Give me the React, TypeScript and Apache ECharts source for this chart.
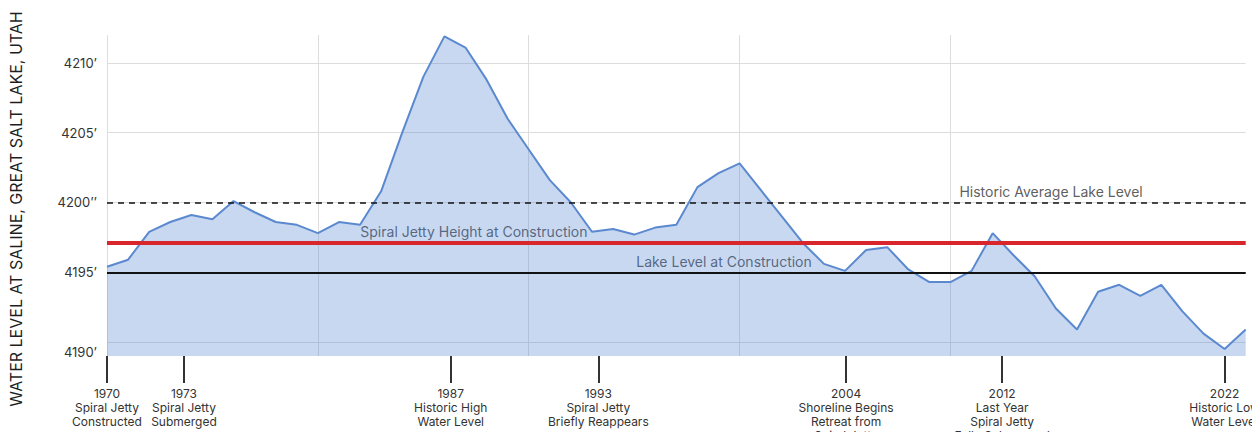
import React, { useEffect, useRef } from "react";
import * as echarts from "echarts";

// Water level (feet) sampled at evenly spaced steps along the x axis (index units)
const levels: number[] = [
  4195.4, 4195.9, 4197.9, 4198.6, 4199.1, 4198.8, 4200.1, 4199.3, 4198.6, 4198.4,
  4197.8, 4198.6, 4198.4, 4200.8, 4205.0, 4209.0, 4211.9, 4211.1, 4208.8, 4206.0,
  4203.8, 4201.6, 4200.0, 4197.9, 4198.1, 4197.7, 4198.2, 4198.4, 4201.1, 4202.1,
  4202.8, 4200.9, 4199.0, 4197.1, 4195.6, 4195.1, 4196.6, 4196.8, 4195.2, 4194.3,
  4194.3, 4195.1, 4197.8, 4196.2, 4194.7, 4192.4, 4190.9, 4193.6, 4194.1, 4193.3,
  4194.1, 4192.2, 4190.6, 4189.5, 4190.9,
];

const yTickValues = [4190, 4195, 4200, 4205, 4210];
const yTickLabels = ["4190’", "4195’", "4200’’", "4205’", "4210’"];
const xGridValues = [0, 10, 20, 30, 40, 50];

// Timeline annotations (position in x-axis index units)
const markerPositions = [0, 3.65, 16.3, 23.3, 35.05, 42.45, 53.0];
const markerYears = ["1970", "1973", "1987", "1993", "2004", "2012", "2022"];
const markerNotes = [
  "Spiral Jetty\nConstructed",
  "Spiral Jetty\nSubmerged",
  "Historic High\nWater Level",
  "Spiral Jetty\nBriefly Reappears",
  "Shoreline Begins\nRetreat from\nSpiral Jetty",
  "Last Year\nSpiral Jetty\nFully Submerged",
  "Historic Low\nWater Level",
];

// Reference levels
const refNames = ["Historic Average Lake Level", "Spiral Jetty Height at Construction", "Lake Level at Construction"];
const refLevels = [4200, 4197.1, 4195];
const refLabelX = [44.77, 17.4, 29.26];

const FONT = "Inter, 'Noto Sans', sans-serif";

export default function App() {
  const ref = useRef<HTMLDivElement>(null);
  useEffect(() => {
    if (!ref.current) return;
    const chart = echarts.init(ref.current, undefined, { renderer: "svg" });
    const xMax = levels.length - 1;
    const option: any = {
      animation: false,
      textStyle: { fontFamily: FONT },
      grid: { left: 107, right: 14.3, top: 35, bottom: 84, outerBoundsMode: "none", containLabel: false },
      xAxis: [
        {
          type: "value",
          min: 0,
          max: xMax,
          axisLine: { show: false },
          axisTick: { show: false, customValues: xGridValues },
          axisLabel: { show: false },
          splitLine: { show: true, showMinLine: true, showMaxLine: false, lineStyle: { color: "#dddddd", width: 1 } },
        },
        {
          type: "value",
          min: 0,
          max: xMax,
          position: "bottom",
          axisLine: { show: false },
          splitLine: { show: false },
          axisTick: {
            show: true,
            inside: false,
            length: 27,
            customValues: markerPositions,
            lineStyle: { color: "#333333", width: 2 },
          },
          axisLabel: {
            show: true,
            customValues: markerPositions,
            showMinLabel: true,
            showMaxLabel: true,
            margin: 30,
            verticalAlign: "top",
            align: "center",
            fontFamily: FONT,
            fontSize: 12,
            lineHeight: 14,
            color: "#333333",
            formatter: (v: number) => {
              const i = markerPositions.findIndex((p) => Math.abs(p - v) < 1e-6);
              return i < 0 ? "" : markerYears[i] + "\n" + markerNotes[i];
            },
          },
        },
      ],
      yAxis: {
        type: "value",
        min: 4189,
        max: 4212,
        axisLine: { show: false },
        axisTick: { show: false, customValues: yTickValues },
        axisLabel: {
          customValues: yTickValues,
          margin: 10,
          fontFamily: FONT,
          fontSize: 13,
          color: "#333333",
          formatter: (v: number) => {
            const i = yTickValues.indexOf(v);
            const t = i < 0 ? "" : yTickLabels[i];
            return i === 0 ? "{low|" + t + "}" : t;
          },
          rich: { low: { padding: [20, 0, 0, 0], fontFamily: FONT, fontSize: 13, color: "#333333" } },
        },
        splitLine: { show: true, lineStyle: { color: "#dddddd", width: 1 } },
      },
      graphic: [
        {
          type: "text",
          x: 16,
          y: 209,
          rotation: Math.PI / 2,
          style: {
            text: "WATER LEVEL AT SALINE, GREAT SALT LAKE, UTAH",
            fontFamily: FONT,
            fontSize: 16,
            fill: "#1e1e1e",
            align: "center",
            verticalAlign: "middle",
          },
        },
      ],
      series: [
        {
          type: "line",
          xAxisIndex: 0,
          data: levels.map((v, i) => [i, v]),
          symbol: "none",
          lineStyle: { color: "#5b89cf", width: 2 },
          areaStyle: { color: "#4a7fd0", opacity: 0.3 },
          markLine: {
            silent: true,
            symbol: "none",
            label: { show: false },
            data: [
              { yAxis: refLevels[0], lineStyle: { type: [6, 5], color: "#111111", width: 1.5 } },
              { yAxis: refLevels[1], lineStyle: { type: "solid", color: "#d9262d", width: 4 } },
              { yAxis: refLevels[2], lineStyle: { type: "solid", color: "#111111", width: 2 } },
            ],
          },
        },
        {
          type: "scatter",
          xAxisIndex: 0,
          silent: true,
          symbolSize: 1,
          itemStyle: { color: "rgba(0,0,0,0)" },
          data: refLevels.map((v, i) => [refLabelX[i], v]),
          label: {
            show: true,
            position: "top",
            distance: 2.5,
            fontFamily: FONT,
            fontSize: 14,
            lineHeight: 16,
            color: "#333333",
            formatter: (p: any) => refNames[p.dataIndex],
          },
        },
      ],
    };
    chart.setOption(option);
    return () => chart.dispose();
  }, []);
  return <div ref={ref} style={{ width: 1260, height: 440, margin: -8 }} />;
}
